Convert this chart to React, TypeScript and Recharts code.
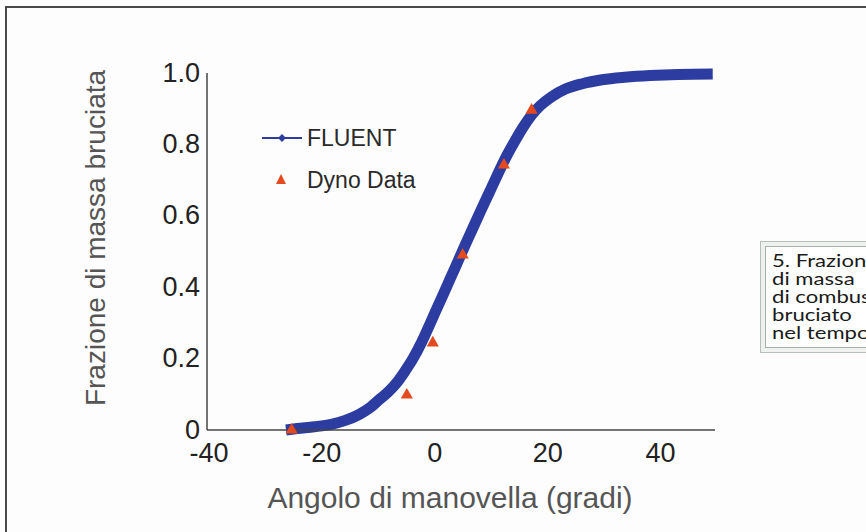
import {
  ComposedChart,
  Line,
  Scatter,
  XAxis,
  YAxis,
  Legend,
  Label,
} from "recharts";

// crank angle (deg) -> burned mass fraction
const fluentAngle = [
  -26, -24, -21, -18, -15.5, -13, -11, -9.5, -8, -6.5, -5, -3.5, -2, -0.5, 1,
  2.5, 4, 5.5, 7, 8.5, 10, 11.5, 13, 14.5, 16, 17.5, 19, 21, 23.5, 26.5, 30, 34,
  38.5, 43.5, 49.6,
];
const fluentMass = [
  0, 0.004, 0.009, 0.016, 0.027, 0.044, 0.064, 0.085, 0.105, 0.13, 0.163, 0.2,
  0.245, 0.297, 0.35, 0.403, 0.456, 0.51, 0.562, 0.614, 0.665, 0.716, 0.765,
  0.808, 0.848, 0.882, 0.908, 0.933, 0.955, 0.97, 0.981, 0.988, 0.993, 0.996,
  0.997,
];

const dynoAngle = [-25, -4.6, 0, 5.3, 12.6, 17.5];
const dynoMass = [0, 0.098, 0.244, 0.49, 0.742, 0.896];

const xTicks = [-40, -20, 0, 20, 40];
const yTicks = [0, 0.2, 0.4, 0.6, 0.8, 1.0];

const captionLines = [
  "5. Frazione",
  "di massa",
  "di combustibile",
  "bruciato",
  "nel tempo",
];

const BLUE = "#2c3ca0";
const RED = "#e34a1f";
const FONT = "'Liberation Sans', Arial, Helvetica, sans-serif";

const fluentData = fluentAngle.map((x, i) => ({ x, y: fluentMass[i] }));
const dynoData = dynoAngle.map((x, i) => ({ x, y: dynoMass[i] }));

function renderLegend() {
  return (
    <svg width={170} height={80} style={{ fontFamily: FONT }}>
      <line x1={7} y1={20} x2={47} y2={20} stroke={BLUE} strokeWidth={2} />
      <polygon points="27,16 31,20 27,24 23,20" fill={BLUE} />
      <text x={52} y={20} dy="0.36em" fontSize={23} fill="#2a2a2a">
        FLUENT
      </text>
      <polygon points="26,56 31,66 21,66" fill={RED} />
      <text x={52} y={62} dy="0.36em" fontSize={23} fill="#2a2a2a">
        Dyno Data
      </text>
    </svg>
  );
}

function App() {
  return (
    <div
      style={{
        position: "absolute",
        left: 0,
        top: 0,
        width: 866,
        height: 532,
        overflow: "hidden",
        background: "#fdfdfd",
      }}
    >
      <div style={{ position: "absolute", left: 0, top: 0 }}>
        <ComposedChart
          width={866}
          height={532}
          margin={{ top: 73, right: 151, bottom: 0, left: 0 }}
        >
          <XAxis
            type="number"
            dataKey="x"
            domain={[-40, 50]}
            ticks={xTicks}
            allowDataOverflow
            tickLine={false}
            tickMargin={7}
            height={102}
            axisLine={{ stroke: "#444", strokeWidth: 1.5 }}
            tick={{ fontSize: 27, fill: "#222", fontFamily: FONT, dx: 2 }}
          >
            <Label
              content={() => (
                <text
                  x={450}
                  y={508}
                  textAnchor="middle"
                  fontSize={30}
                  fill="#555"
                  fontFamily={FONT}
                >
                  Angolo di manovella (gradi)
                </text>
              )}
            />
          </XAxis>
          <YAxis
            type="number"
            domain={[0, 1]}
            ticks={yTicks}
            width={207}
            tickLine={false}
            tickMargin={1}
            axisLine={{ stroke: "#444", strokeWidth: 1.5 }}
            tick={{ fontSize: 27, fill: "#222", fontFamily: FONT, dy: -1 }}
            tickFormatter={(v: number) => (v === 0 ? "0" : v.toFixed(1))}
          >
            <Label
              content={() => (
                <text
                  x={105}
                  y={238}
                  transform="rotate(-90, 105, 238)"
                  textAnchor="middle"
                  fontSize={28}
                  fill="#555"
                  fontFamily={FONT}
                >
                  Frazione di massa bruciata
                </text>
              )}
            />
          </YAxis>
          <Legend
            layout="horizontal"
            verticalAlign="middle"
            align="center"
            content={renderLegend}
            wrapperStyle={{ position: "absolute", left: 255, top: 118, width: 170 }}
          />
          <Line
            data={fluentData}
            dataKey="y"
            name="FLUENT"
            type="monotone"
            stroke={BLUE}
            strokeWidth={11}
            dot={false}
            isAnimationActive={false}
          />
          <Scatter
            data={dynoData}
            dataKey="y"
            name="Dyno Data"
            fill={RED}
            shape="triangle"
            isAnimationActive={false}
          />
        </ComposedChart>
      </div>
      <div
        style={{
          position: "absolute",
          left: 5,
          top: 6,
          width: 900,
          height: 600,
          borderTop: "2px solid #4a4a4a",
          borderLeft: "2px solid #4a4a4a",
          zIndex: 2,
          pointerEvents: "none",
        }}
      />
      <div
        style={{
          position: "absolute",
          left: 760,
          top: 241,
          width: 200,
          height: 112,
          boxSizing: "border-box",
          border: "1px solid #b5bfb8",
          background: "#eef1ee",
          padding: 4,
          zIndex: 2,
        }}
      >
        <div
          style={{
            boxSizing: "border-box",
            height: "100%",
            border: "1px solid #a5b0a8",
            background: "#fff",
            padding: "5px 6px",
            fontFamily: "Lato, 'Open Sans', sans-serif",
            fontSize: 17,
            lineHeight: "18px",
            color: "#1a1a1a",
            whiteSpace: "nowrap",
          }}
        >
          {captionLines.map((l) => (
            <div
              key={l}
              style={{ transform: "scaleX(1.3)", transformOrigin: "left center" }}
            >
              {l}
            </div>
          ))}
        </div>
      </div>
    </div>
  );
}

export default App;
